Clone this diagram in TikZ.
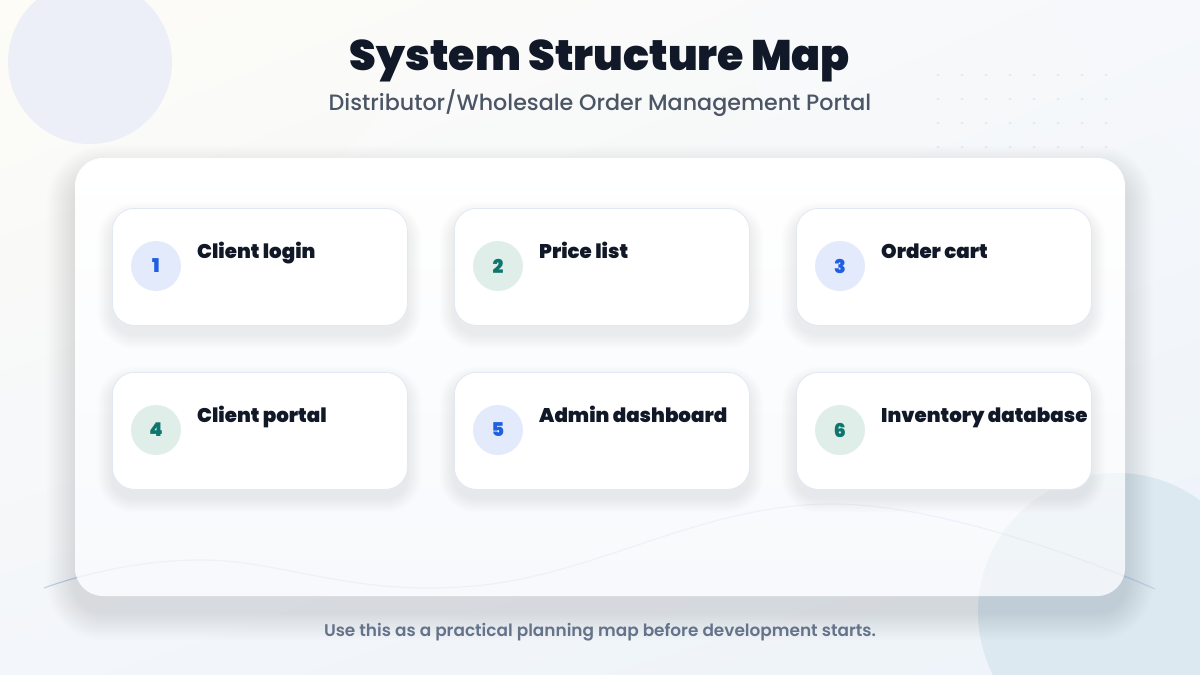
\documentclass[tikz,border=0pt]{standalone}
\usepackage{fontspec}
\setmainfont{Poppins}
\newfontfamily\heavyfont{Poppins Black}
\newfontfamily\semifont{Poppins SemiBold}
\newfontfamily\medfont{Poppins Medium}
\usetikzlibrary{shadings}
\definecolor{titlec}{HTML}{111827}
\definecolor{subc}{HTML}{4B5565}
\definecolor{footc}{HTML}{64738A}
\definecolor{bluen}{HTML}{1F5FE0}
\definecolor{bluebg}{HTML}{E3EAFB}
\definecolor{tealn}{HTML}{0F766E}
\definecolor{tealbg}{HTML}{E0EEEA}
\definecolor{tlcirc}{HTML}{ECEFF8}
\definecolor{brcirc}{HTML}{DCE9F0}
\definecolor{cardbd}{HTML}{E1E8F4}
\definecolor{wavec}{HTML}{C3D1EC}
\definecolor{dotc}{HTML}{E3E7EE}
\definecolor{bgul}{HTML}{FDFCF7}
\definecolor{bgur}{HTML}{F6F8FB}
\definecolor{bgll}{HTML}{F3F6FA}
\definecolor{bglr}{HTML}{EDF3F9}
\definecolor{shadc}{HTML}{2A3A5C}
\definecolor{panelbot}{HTML}{F7F9FC}
% soft shadow: x1,y1,x2,y2,radius,dy,layers,step,opacity
\newcommand{\mysoftshadow}[9]{%
  \foreach \i in {1,...,#7}{%
    \pgfmathsetmacro\rr{#5+#8*\i}%
    \fill[shadc, opacity=#9, rounded corners=\rr pt]
      ({#1-#8*\i},{#2-#8*\i+#6}) rectangle ({#3+#8*\i},{#4+#8*\i+#6});
  }%
}
\tikzset{
  cardbox/.style={draw=cardbd, line width=0.8pt, fill=white, rounded corners=22pt,
    minimum width=295pt, minimum height=117pt, anchor=north west, inner sep=0pt},
  numblue/.style={circle, fill=bluebg, minimum size=50pt, inner sep=0pt, text=bluen,
    font=\heavyfont\fontsize{19}{19}\selectfont},
  numteal/.style={circle, fill=tealbg, minimum size=50pt, inner sep=0pt, text=tealn,
    font=\heavyfont\fontsize{19}{19}\selectfont},
  cardlabel/.style={anchor=base west, inner sep=0pt, text=titlec,
    font=\heavyfont\fontsize{19.8}{22}\selectfont},
}
\begin{document}
\begin{tikzpicture}[x=1pt,y=-1pt]
\useasboundingbox (0,0) rectangle (1200,675);
% background
\shade[upper left=bgul, upper right=bgur, lower left=bgll, lower right=bglr]
  (0,0) rectangle (1200,675);
% decorations
\fill[tlcirc] (90,62) circle (82);
\fill[brcirc] (1117,612) circle (139);
\foreach \r in {0,...,3}{
  \foreach \c in {0,...,7}{
    \fill[dotc] (938+24*\c, 75+24*\r) circle (1.3);
  }
}
\draw[wavec, line width=1.2pt] plot[smooth, tension=0.7] coordinates {(44,588) (199,560) (474,586) (834,504) (1155,589)};
% panel shadow and panel
\mysoftshadow{75}{158}{1125}{596}{28}{16}{14}{2}{0.007}
\shade[top color=white, bottom color=panelbot, rounded corners=28pt] (75,158) rectangle (1125,596);
\node[draw=none, fill=none, minimum width=1050pt, minimum height=438pt, anchor=north west, inner sep=0pt] (panel) at (75,158) {};
\begin{scope}
  \clip[rounded corners=28pt] (75,158) rectangle (1125,596);
  \fill[brcirc, opacity=0.25] (1117,612) circle (139);
  \draw[wavec, line width=1.2pt, opacity=0.2] plot[smooth, tension=0.7] coordinates {(44,588) (199,560) (474,586) (834,504) (1155,589)};
\end{scope}
% titles
\node[anchor=base, inner sep=0pt, text=titlec, font=\heavyfont\fontsize{42.7}{46}\selectfont] (title) at (600,70) {System Structure Map};
\node[anchor=base, inner sep=0pt, text=subc, font=\medfont\fontsize{22.2}{26}\selectfont] (subtitle) at (600,110) {Distributor/Wholesale Order Management Portal};
% card shadows
\foreach \x in {112,454,796}{
  \foreach \y in {208,372}{
    \mysoftshadow{\x}{\y}{\x+295}{\y+117}{22}{9}{9}{1.6}{0.008}
  }
}
% cards
\node[cardbox] (c1) at (112,208) {};
\node[cardbox] (c2) at (454,208) {};
\node[cardbox] (c3) at (796,208) {};
\node[cardbox] (c4) at (112,372) {};
\node[cardbox] (c5) at (454,372) {};
\node[cardbox] (c6) at (796,372) {};
\node[numblue] (n1) at (156,266) {1};
\node[numteal] (n2) at (498,266) {2};
\node[numblue] (n3) at (840,266) {3};
\node[numteal] (n4) at (156,430) {4};
\node[numblue] (n5) at (498,430) {5};
\node[numteal] (n6) at (840,430) {6};
\node[cardlabel] (l1) at (197,258) {Client login};
\node[cardlabel] (l2) at (539,258) {Price list};
\node[cardlabel] (l3) at (881,258) {Order cart};
\node[cardlabel] (l4) at (197,422) {Client portal};
\node[cardlabel] (l5) at (539,422) {Admin dashboard};
\node[cardlabel] (l6) at (881,422) {Inventory database};
% footer
\node[anchor=base, inner sep=0pt, text=footc, font=\semifont\fontsize{16.9}{20}\selectfont] (foot) at (600,636) {Use this as a practical planning map before development starts.};
\end{tikzpicture}
\end{document}
